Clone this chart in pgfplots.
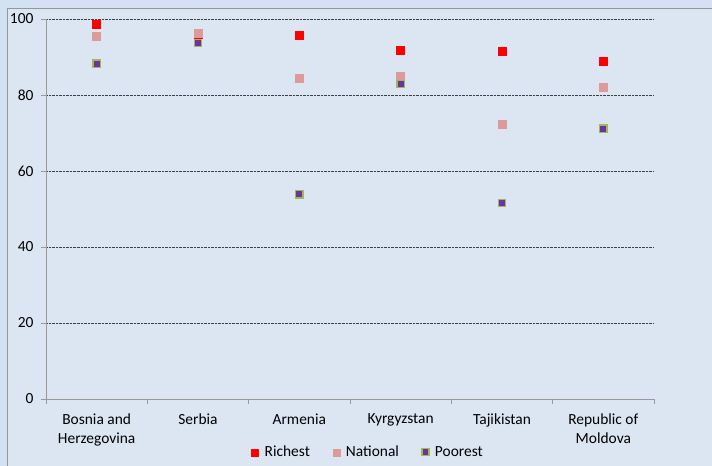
\documentclass[border=0pt]{standalone}
\usepackage{pgfplots}
\pgfplotsset{compat=1.18}
\usepackage{fontspec}
\setmainfont{Carlito}
\definecolor{bgin}{RGB}{220,230,242}
\definecolor{bgout}{RGB}{211,226,243}
\definecolor{frame}{RGB}{150,150,150}
\definecolor{rich}{RGB}{255,0,0}
\definecolor{natl}{RGB}{222,153,153}
\definecolor{poorf}{RGB}{112,48,160}
\definecolor{poore}{RGB}{155,187,89}
\begin{document}
\begin{tikzpicture}
\useasboundingbox (0,0) rectangle (712bp,466bp);
\fill[bgout] (0,0) rectangle (712bp,466bp);
\fill[bgin] (7bp,-2bp) rectangle (714bp,458bp);
\draw[frame, line width=0.8bp] (7bp,-2bp) -- (7bp,458bp) -- (714bp,458bp);
\begin{axis}[
  at={(46bp,67bp)}, anchor=south west,
  scale only axis, width=608bp, height=380bp,
  xmin=-0.5, xmax=5.5, ymin=0, ymax=100,
  axis x line*=bottom, axis y line*=left,
  axis line style={draw=gray!80, line width=0.8bp},
  tick align=outside,
  xtick={0,1,2,3,4,5},
  xticklabels={{Bosnia and\\Herzegovina},Serbia,Armenia,Kyrgyzstan,Tajikistan,{Republic of\\Moldova}},
  xticklabel style={align=center, font=\fontsize{15.5}{19.5}\selectfont, yshift=-6bp},
  major x tick style={draw=none},
  extra x ticks={-0.5,0.5,1.5,2.5,3.5,4.5,5.5},
  extra x tick labels={},
  extra x tick style={major x tick style={draw=gray!80, line width=0.8bp}, major tick length=5bp, tick align=outside},
  ytick={0,20,40,60,80,100},
  ytick style={draw=gray!80, line width=0.8bp},
  major tick length=5bp,
  yticklabel style={font=\fontsize{15.5}{18}\selectfont, xshift=-4bp},
  /pgf/number format/assume math mode=true,
  ymajorgrids,
  grid style={densely dotted, black!75, line width=0.7bp},
  legend style={at={(0.53,-0.113)}, anchor=north, legend columns=3, draw=none, fill=none,
    font=\fontsize{15.5}{18}\selectfont,
    /tikz/every even column/.append style={column sep=21bp},
    /tikz/every odd column/.append style={column sep=4bp}},
  legend image code/.code={\draw[#1, mark size=3.5bp] plot coordinates {(0.2em,0)};},
  clip=false,
]
\addplot[only marks, mark=square*, mark size=4bp, draw=rich, fill=rich] coordinates {
(0,98.7) (1,96.0) (2,95.8) (3,91.8) (4,91.6) (5,88.9)};
\addlegendentry{Richest}
\addplot[only marks, mark=square*, mark size=4bp, draw=natl, fill=natl] coordinates {
(0,95.5) (1,96.3) (2,84.5) (3,85.0) (4,72.4) (5,82.1)};
\addlegendentry{National}
\addplot[only marks, mark=square*, mark size=3.6bp, draw=poore, fill=poorf, line width=1.5bp] coordinates {
(0,88.2) (1,93.7) (2,53.9) (3,82.9) (4,51.6) (5,71.1)};
\addlegendentry{Poorest}
\end{axis}
\end{tikzpicture}
\end{document}
